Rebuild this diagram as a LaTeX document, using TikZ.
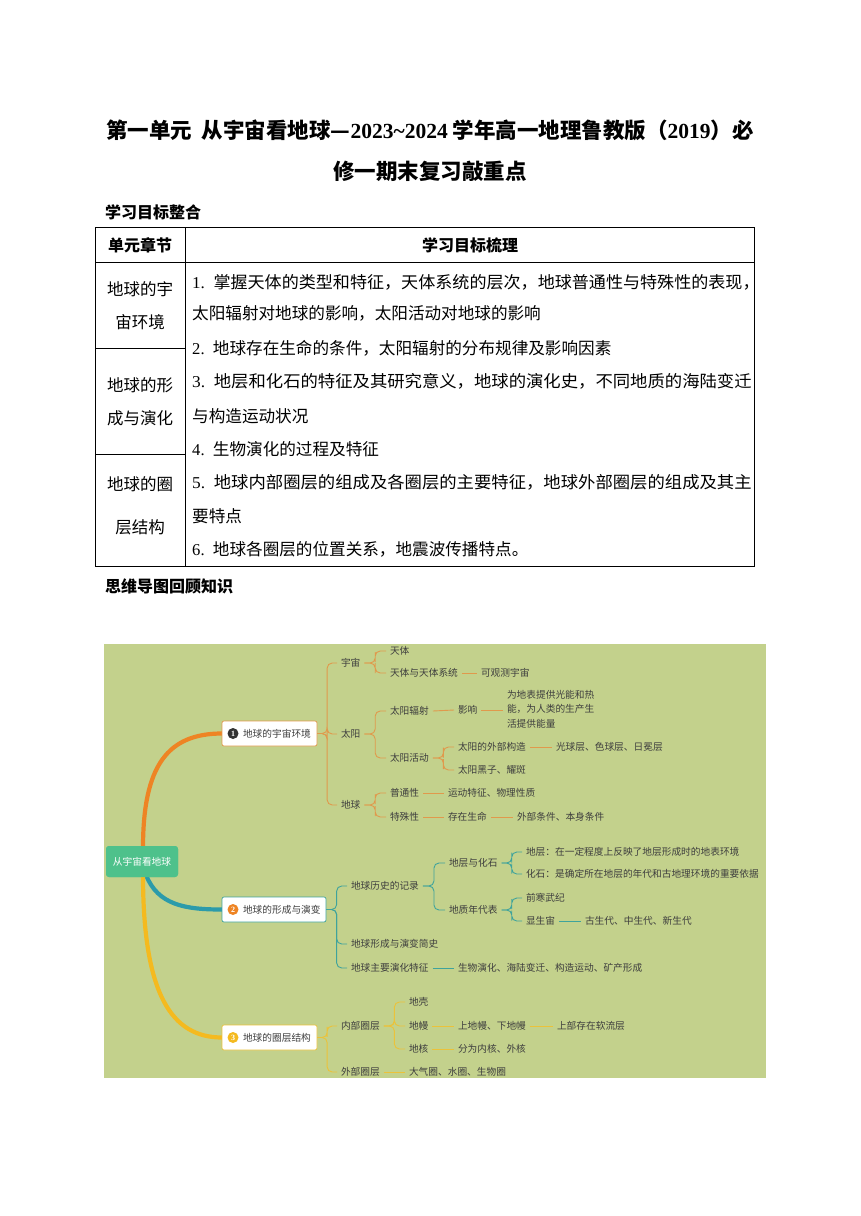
\documentclass[tikz,border=0pt]{standalone}
\usepackage{fontspec}
\usepackage{graphicx}
\setmainfont{Liberation Serif}
\newfontfamily\cjk{Noto Sans CJK SC}
\newfontfamily\lat{Liberation Serif}
\usetikzlibrary{calc}
\definecolor{bg}{HTML}{C3D18C}
\definecolor{rootg}{HTML}{4EC18B}
\definecolor{oA}{HTML}{EE8424}
\definecolor{tA}{HTML}{2C9BAA}
\definecolor{yA}{HTML}{F4BA1F}
\definecolor{oL}{HTML}{E0994C}
\definecolor{tL}{HTML}{3FA39C}
\definecolor{yL}{HTML}{EBC23A}
\definecolor{mmtext}{HTML}{3E3E3E}
\definecolor{badge1}{HTML}{333333}
\newcommand{\nsp}{\hspace{0.5em}}
\tikzset{
  tt/.style={font=\cjk\bfseries\fontsize{21.5}{26}\selectfont, inner sep=0pt},
  sec/.style={font=\cjk\bfseries\fontsize{16}{20}\selectfont, anchor=west, inner sep=0pt},
  cell/.style={font=\cjk\fontsize{16.6}{20}\selectfont, anchor=west, inner sep=0pt},
  head/.style={font=\cjk\bfseries\fontsize{16}{20}\selectfont, inner sep=0pt},
  lc/.style={font=\cjk\fontsize{16.5}{20}\selectfont, inner sep=0pt},
  tline/.style={draw=black, line width=0.8pt},
  mm/.style={font=\cjk\fontsize{9.7}{14.5}\selectfont, text=mmtext, anchor=west, inner sep=2.5pt, outer sep=1.5pt},
  rootbox/.style={fill=rootg, rounded corners=3pt, minimum width=72pt, minimum height=31pt, inner sep=0pt,
     font=\cjk\fontsize{9.7}{12}\selectfont, text=white},
  bbox/.style={draw=#1, fill=white, rounded corners=2pt, line width=0.7pt, minimum height=25pt, inner sep=0pt},
  badge/.style={circle, fill=#1, minimum size=11pt, inner sep=0pt, text=white,
     font=\lat\bfseries\fontsize{8}{8}\selectfont},
  brc/.style={to path={(\tikztostart) -| ($(\tikztostart)!0.5!(\tikztotarget)$) |- (\tikztotarget)}},
  cA/.style={draw=oL, line width=0.9pt, rounded corners=5pt},
  cB/.style={draw=tL, line width=0.9pt, rounded corners=5pt},
  cC/.style={draw=yL, line width=0.9pt, rounded corners=5pt},
}
\begin{document}
\begin{tikzpicture}[x=1pt,y=-1pt]
\useasboundingbox (0,0) rectangle (860,1216);
\fill[white] (0,0) rectangle (860,1216);

% ---- title ----
\node[tt] (t1) at (430,130) {第一单元\hspace{0.45em}从宇宙看地球—{\lat\bfseries 2023\textasciitilde 2024} 学年高一地理鲁教版（{\lat\bfseries 2019}）必};
\node[tt] (t2) at (430,171) {修一期末复习敲重点};
\node[sec] (s1) at (105,212) {学习目标整合};

% ---- table ----
\draw[tline] (95,227) rectangle (754,566);
\draw[tline] (95,262) -- (754,262);
\draw[tline] (185,227) -- (185,566);
\draw[tline] (95,348) -- (185,348);
\draw[tline] (95,454) -- (185,454);
\node[head] (h1) at (140,245) {单元章节};
\node[head] (h2) at (470,245) {学习目标梳理};
\node[lc] (l1a) at (140,289) {地球的宇};
\node[lc] (l1b) at (140,322) {宙环境};
\node[lc] (l2a) at (140,385) {地球的形};
\node[lc] (l2b) at (140,418) {成与演化};
\node[lc] (l3a) at (140,484) {地球的圈};
\node[lc] (l3b) at (140,527) {层结构};
\node[cell] (r1) at (192,282) {\scalebox{1.028}[1]{{\lat 1.}\nsp 掌握天体的类型和特征，天体系统的层次，地球普通性与特殊性的表现，}};
\node[cell] (r2) at (192,313) {太阳辐射对地球的影响，太阳活动对地球的影响};
\node[cell] (r3) at (192,348) {{\lat 2.}\nsp 地球存在生命的条件，太阳辐射的分布规律及影响因素};
\node[cell] (r4) at (192,381) {\scalebox{1.045}[1]{{\lat 3.}\nsp 地层和化石的特征及其研究意义，地球的演化史，不同地质的海陆变迁}};
\node[cell] (r5) at (192,416) {与构造运动状况};
\node[cell] (r6) at (192,449) {{\lat 4.}\nsp 生物演化的过程及特征};
\node[cell] (r7) at (192,482) {\scalebox{1.045}[1]{{\lat 5.}\nsp 地球内部圈层的组成及各圈层的主要特征，地球外部圈层的组成及其主}};
\node[cell] (r8) at (192,516) {要特点};
\node[cell] (r9) at (192,549) {{\lat 6.}\nsp 地球各圈层的位置关系，地震波传播特点。};
\node[sec] (s2) at (105,586) {思维导图回顾知识};

% ---- mind map ----
\begin{scope}
\clip (104,644) rectangle (766,1078);
\fill[bg] (104,644) rectangle (766,1078);

\node[rootbox] (root) at (142,861.5) {从宇宙看地球};
\coordinate (b1in) at (222,733.5);
\coordinate (b2in) at (222,909.5);
\coordinate (b3in) at (222,1037.5);
\draw[oA, line width=4.2pt] (143,848) .. controls (143,765) and (168,733.5) .. (b1in);
\draw[tA, line width=4.2pt] (146,875) .. controls (158,905) and (185,909.5) .. (b2in);
\draw[yA, line width=4.2pt] (143,875) .. controls (143,995) and (172,1037.5) .. (b3in);
\node[rootbox] at (root) {从宇宙看地球};

\node[bbox=oL, minimum width=95pt] (b1) at (269.5,733.5) {};
\node[badge=badge1] (n1) at (233,733.5) {1};
\node[mm] (b1t) at (239,733.5) {地球的宇宙环境};
\node[bbox=tL, minimum width=104pt] (b2) at (274,909.5) {};
\node[badge=oA] (n2) at (233,909.5) {2};
\node[mm] (b2t) at (239,909.5) {地球的形成与演变};
\node[bbox=yL, minimum width=95pt] (b3) at (269.5,1037.5) {};
\node[badge=yA] (n3) at (233,1037.5) {3};
\node[mm] (b3t) at (239,1037.5) {地球的圈层结构};

% branch 1
\node[mm] (u1) at (337,663) {宇宙};
\node[mm] (u2) at (337,734) {太阳};
\node[mm] (u3) at (337,805) {地球};
\node[mm] (a1) at (386,651) {天体};
\node[mm] (a2) at (386,673) {天体与天体系统};
\node[mm] (a3) at (477,673) {可观测宇宙};
\node[mm] (s1r) at (386,711) {太阳辐射};
\node[mm] (s2r) at (386,758) {太阳活动};
\node[mm] (s3) at (454,710) {影响};
\node[mm, align=left] (s4) at (503,709) {为地表提供光能和热\\能，为人类的生产生\\活提供能量};
\node[mm] (s5) at (454,747) {太阳的外部构造};
\node[mm] (s6) at (454,770) {太阳黑子、耀斑};
\node[mm] (s7) at (552,747) {光球层、色球层、日冕层};
\node[mm] (e1) at (386,793) {普通性};
\node[mm] (e2) at (386,817) {特殊性};
\node[mm] (e3) at (444,793) {运动特征、物理性质};
\node[mm] (e4) at (444,817) {存在生命};
\node[mm] (e5) at (513,817) {外部条件、本身条件};
\foreach \c in {u1,u2,u3} \draw[cA] (b1.east) to[brc] (\c.west);
\foreach \c in {a1,a2} \draw[cA] (u1.east) to[brc] (\c.west);
\draw[cA] (a2.east) -- (a3.west);
\foreach \c in {s1r,s2r} \draw[cA] (u2.east) to[brc] (\c.west);
\draw[cA] (s1r.east) -- (s3.west);
\draw[cA] (s3.east) -- (s3.east -| s4.west);
\foreach \c in {s5,s6} \draw[cA] (s2r.east) to[brc] (\c.west);
\draw[cA] (s5.east) -- (s7.west);
\foreach \c in {e1,e2} \draw[cA] (u3.east) to[brc] (\c.west);
\draw[cA] (e1.east) -- (e3.west);
\draw[cA] (e2.east) -- (e4.west);
\draw[cA] (e4.east) -- (e5.west);

% branch 2
\node[mm] (h1n) at (347,886) {地球历史的记录};
\node[mm] (h2n) at (347,944) {地球形成与演变简史};
\node[mm] (h3n) at (347,968) {地球主要演化特征};
\node[mm] (g1) at (445,863) {地层与化石};
\node[mm] (g2) at (445,910) {地质年代表};
\node[mm] (g3) at (522,852) {地层：在一定程度上反映了地层形成时的地表环境};
\node[mm] (g4) at (522,874) {化石：是确定所在地层的年代和古地理环境的重要依据};
\node[mm] (g5) at (522,898) {前寒武纪};
\node[mm] (g6) at (522,921) {显生宙};
\node[mm] (g7) at (581,921) {古生代、中生代、新生代};
\node[mm] (g8) at (454,968) {生物演化、海陆变迁、构造运动、矿产形成};
\foreach \c in {h1n,h2n,h3n} \draw[cB] (b2.east) to[brc] (\c.west);
\foreach \c in {g1,g2} \draw[cB] (h1n.east) to[brc] (\c.west);
\foreach \c in {g3,g4} \draw[cB] (g1.east) to[brc] (\c.west);
\foreach \c in {g5,g6} \draw[cB] (g2.east) to[brc] (\c.west);
\draw[cB] (g6.east) -- (g7.west);
\draw[cB] (h3n.east) -- (g8.west);

% branch 3
\node[mm] (q1) at (337,1026) {内部圈层};
\node[mm] (q2) at (337,1072) {外部圈层};
\node[mm] (k1) at (405,1002) {地壳};
\node[mm] (k2) at (405,1026) {地幔};
\node[mm] (k3) at (405,1049) {地核};
\node[mm] (k4) at (454,1026) {上地幔、下地幔};
\node[mm] (k5) at (553,1026) {上部存在软流层};
\node[mm] (k6) at (454,1049) {分为内核、外核};
\node[mm] (k7) at (405,1072) {大气圈、水圈、生物圈};
\foreach \c in {q1,q2} \draw[cC] (b3.east) to[brc] (\c.west);
\foreach \c in {k1,k2,k3} \draw[cC] (q1.east) to[brc] (\c.west);
\draw[cC] (k2.east) -- (k4.west);
\draw[cC] (k4.east) -- (k5.west);
\draw[cC] (k3.east) -- (k6.west);
\draw[cC] (q2.east) -- (k7.west);
\end{scope}
\end{tikzpicture}
\end{document}
